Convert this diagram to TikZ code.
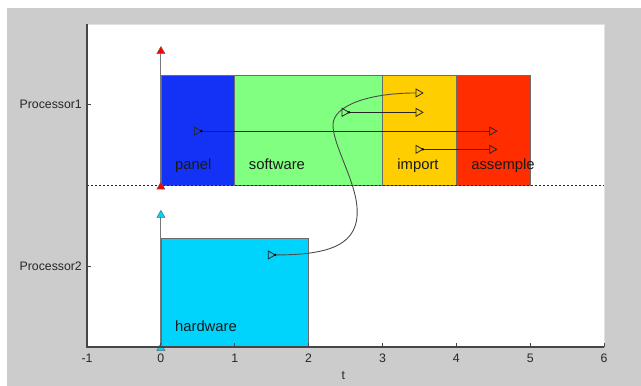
\documentclass[tikz,border=0pt]{standalone}
\usepackage{fontspec}
\setmainfont{Liberation Sans}
\usetikzlibrary{calc}
\definecolor{bggray}{RGB}{204,204,204}
\definecolor{cpanel}{RGB}{20,50,245}
\definecolor{csoft}{RGB}{128,255,128}
\definecolor{cimport}{RGB}{255,206,0}
\definecolor{cassem}{RGB}{255,45,0}
\definecolor{chard}{RGB}{0,212,252}
\definecolor{axisgray}{RGB}{70,70,70}
\definecolor{framegray}{RGB}{225,225,225}
\definecolor{stemgray}{RGB}{120,120,120}
\tikzset{
  bar/.style={draw=axisgray!80, line width=0.7pt},
  barlabel/.style={anchor=base west, inner sep=0pt, text=black!90, font=\fontsize{14.8}{16}\selectfont},
  ticklabel/.style={anchor=base, inner sep=0pt, text=black!85, font=\fontsize{12.3}{14}\selectfont},
  proclabel/.style={anchor=east, inner sep=0pt, text=black!85, font=\fontsize{12.3}{14}\selectfont},
  axisline/.style={draw=axisgray, line width=1.3pt},
  frameline/.style={draw=framegray, line width=1pt},
  stem/.style={draw=stemgray, line width=0.9pt},
  flow/.style={draw=black!85, line width=0.8pt, shorten <=3.5pt, shorten >=3.5pt},
  curveflow/.style={draw=black!70, line width=0.9pt, shorten <=3.5pt, shorten >=3.5pt},
  pics/uptri/.style={code={\filldraw[fill=#1, draw=black!60, line width=0.5pt] (-4pt,-3.5pt) -- (4pt,-3.5pt) -- (0pt,3.5pt) -- cycle;}},
  pics/opentri/.style={code={\draw[black!85, line width=0.8pt, line join=miter] (-3.5pt,-4pt) -- (3.5pt,0pt) -- (-3.5pt,4pt) -- cycle;}},
  pics/startdot/.style={code={\fill[black] (3.5pt,0pt) circle (1.3pt);}}
}
\begin{document}
\begin{tikzpicture}[x=1pt,y=-1pt]
\useasboundingbox (0,0) rectangle (641,386);
\fill[white] (0,0) rectangle (641,386);
\fill[bggray] (7,8) rectangle (641,386);
\begin{scope}[shift={(160.9pt,-347pt)}, x=73.86pt, y=161.5pt]
  \fill[white] (-1,0) rectangle (6,2);
  % frame (light)
  \draw[frameline] (-1,2) -- (6,2) -- (6,0);
  % bars
  \draw[bar, fill=cpanel]  (0,1) rectangle (1,1.68);
  \draw[bar, fill=csoft]   (1,1) rectangle (3,1.68);
  \draw[bar, fill=cimport] (3,1) rectangle (4,1.68);
  \draw[bar, fill=cassem]  (4,1) rectangle (5,1.68);
  \draw[bar, fill=chard]   (0,0) rectangle (2,0.675);
  % bar labels
  \node[barlabel] (lpanel) at (0.19,1.096) {panel};
  \node[barlabel] (lsoft)  at (1.19,1.096) {software};
  \node[barlabel] (limp)   at (3.20,1.096) {import};
  \node[barlabel] (lass)   at (4.20,1.096) {assemple};
  \node[barlabel] (lhard)  at (0.19,0.093) {hardware};
  % dashed separator
  \draw[black!85, line width=0.7pt, dash pattern=on 2pt off 2pt] (-1,1) -- (6,1);
  % marker stems
  \coordinate (r1) at (0,1);
  \coordinate (r2) at (0,1.839);
  \coordinate (c1) at (0,0);
  \coordinate (c2) at (0,0.824);
  \draw[stem] (r1) -- (r2);
  \draw[stem] (c1) -- (c2);
  \pic at (r2) {uptri=red};
  \pic at (r1) {uptri=red};
  \pic at (c2) {uptri=chard};
  \pic at (c1) {uptri=chard};
  % flows
  \coordinate (a1s) at (0.5,1.337);
  \coordinate (a1e) at (4.5,1.337);
  \coordinate (a2s) at (2.5,1.453);
  \coordinate (a2e) at (3.5,1.453);
  \coordinate (a3s) at (3.5,1.224);
  \coordinate (a3e) at (4.5,1.224);
  \coordinate (hs) at (1.5,0.570);
  \coordinate (he) at (3.5,1.573);
  \draw[flow] (a1s) -- (a1e);
  \draw[flow] (a2s) -- (a2e);
  \draw[flow] (a3s) -- (a3e);
  \draw[curveflow] (hs) .. controls (2.290,0.570) and (2.696,0.632) .. (2.655,0.867)
     .. controls (2.628,1.034) and (2.330,1.251) .. (2.330,1.375)
     .. controls (2.330,1.498) and (2.831,1.573) .. (he);
  \foreach \p in {a1s,a2s,a3s,hs} { \pic at (\p) {opentri}; \pic at (\p) {startdot}; }
  \foreach \p in {a1e,a2e,a3e,he} { \pic at (\p) {opentri}; }
  % axes
  \draw[axisline] (-1,2) -- (-1,0) -- (6,0);
  \foreach \i in {-1,...,6} {
    \draw[axisgray, line width=0.9pt] (\i,0) -- ++(0pt,4pt);
    \node[ticklabel] (tx\i) at (\i,-0.099) {\i};
  }
  \draw[axisgray, line width=0.9pt] (-1,1.5) -- ++(4pt,0pt);
  \draw[axisgray, line width=0.9pt] (-1,0.5) -- ++(4pt,0pt);
  \node[proclabel] (p1) at ($(-1,1.5)+(-5pt,0pt)$) {Processor1};
  \node[proclabel] (p2) at ($(-1,0.5)+(-5pt,0pt)$) {Processor2};
  \node[ticklabel] (tlab) at (2.47,-0.200) {t};
\end{scope}
\end{tikzpicture}
\end{document}
